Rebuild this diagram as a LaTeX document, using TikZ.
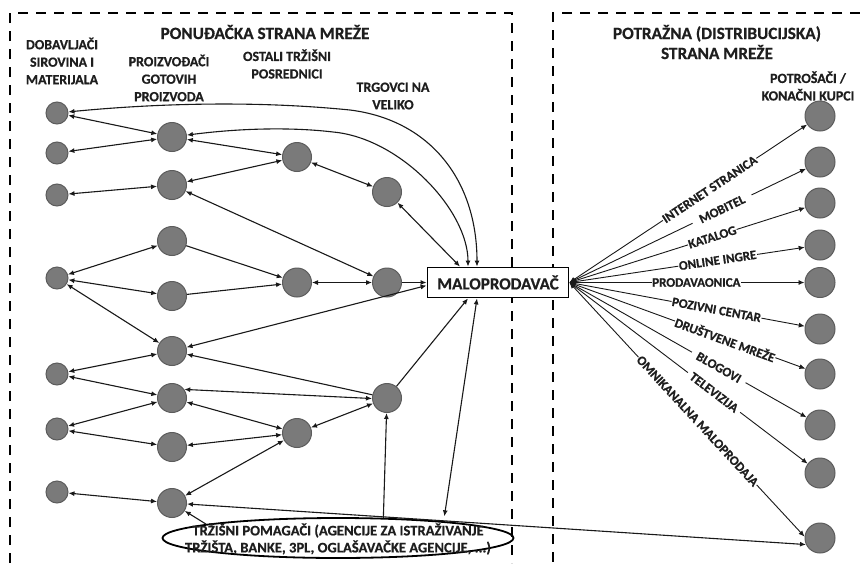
\documentclass[tikz,border=0pt]{standalone}
\usepackage{fontspec}
\setmainfont{Carlito}[BoldFeatures={FakeBold=0.6}]
\usetikzlibrary{arrows.meta,shapes.geometric}
\definecolor{ng}{RGB}{122,122,122}
\definecolor{ne}{RGB}{92,92,92}
\definecolor{tx}{RGB}{30,30,30}
\begin{document}
\begin{tikzpicture}[x=1pt,y=-1pt,
  snode/.style={circle,fill=ng,draw=ne,line width=1pt,minimum size=22pt,inner sep=0pt},
  bnode/.style={circle,fill=ng,draw=ne,line width=1pt,minimum size=29pt,inner sep=0pt},
  cnode/.style={circle,fill=ng,draw=ne,line width=1pt,minimum size=30pt,inner sep=0pt},
  tip/.tip={Latex[length=6pt,width=5pt]},
  arr2/.style={line width=1.1pt,tip-tip,draw=black!90},
  arr1/.style={line width=1.1pt,-tip,draw=black!90},
  chan/.style={line width=0.9pt,tip-tip,draw=black!90},
  chl/.style={fill=white,inner sep=0.6pt,text=tx,font=\bfseries\fontsize{13}{14}\selectfont,sloped},
  hdr/.style={text=tx,font=\bfseries\fontsize{17.2}{20}\selectfont,align=center,inner sep=0pt},
  sub/.style={text=tx,font=\bfseries\fontsize{14}{17.5}\selectfont,align=center,inner sep=0pt},
  dbox/.style={line width=2.4pt,dash pattern=on 10pt off 8pt}
]
\useasboundingbox (0,0) rectangle (860,563);
\fill[white] (0,0) rectangle (860,563);

% dashed areas
\draw[dbox] (10,563) -- (10,13) -- (512,13) -- (512,563);
\draw[dbox] (860,13) -- (553,13) -- (553,563);

% headers
\node[hdr] (hL) at (265,32) {PONUĐAČKA STRANA MREŽE};
\node[hdr] (hR) at (717,42) {POTRAŽNA (DISTRIBUCIJSKA)\\STRANA MREŽE};
\node[sub] (t1) at (62,61) {DOBAVLJAČI\\SIROVINA I\\MATERIJALA};
\node[sub] (t2) at (169,78) {PROIZVOĐAČI\\GOTOVIH\\PROIZVODA};
\node[sub] (t3) at (287,64) {OSTALI TRŽIŠNI\\POSREDNICI};
\node[sub] (t4) at (393,96) {TRGOVCI NA\\VELIKO};
\node[sub] (t5) at (808,86) {POTROŠAČI /\\KONAČNI KUPCI};

% suppliers
\node[snode] (S1) at (57,113) {};
\node[snode] (S2) at (57,153) {};
\node[snode] (S3) at (57,195) {};
\node[snode] (S4) at (57,278) {};
\node[snode] (S5) at (57,374) {};
\node[snode] (S6) at (57,429) {};
\node[snode] (S7) at (57,492) {};
% producers
\node[bnode] (P1) at (172,137) {};
\node[bnode] (P2) at (172,185) {};
\node[bnode] (P3) at (172,241) {};
\node[bnode] (P4) at (172,296) {};
\node[bnode] (P5) at (172,351) {};
\node[bnode] (P6) at (172,398) {};
\node[bnode] (P7) at (172,447) {};
\node[bnode] (P8) at (172,503) {};
% other intermediaries
\node[bnode] (O1) at (297,157) {};
\node[bnode] (O2) at (297,282.5) {};
\node[bnode] (O3) at (297,433) {};
% wholesalers
\node[bnode] (W1) at (387,192) {};
\node[bnode] (W2) at (387,282.5) {};
\node[bnode] (W3) at (387,398) {};
% consumers
\node[cnode] (C1) at (820,116) {};
\node[cnode] (C2) at (820,162) {};
\node[cnode] (C3) at (820,203) {};
\node[cnode] (C4) at (820,245) {};
\node[cnode] (C5) at (820,282.5) {};
\node[cnode] (C6) at (820,329) {};
\node[cnode] (C7) at (820,374) {};
\node[cnode] (C8) at (820,425) {};
\node[cnode] (C9) at (820,473) {};
\node[cnode] (C10) at (820,538) {};

% retailer
\node[draw=black,line width=1.8pt,fill=white,minimum width=141pt,minimum height=30pt,inner sep=0pt,
      text=tx,font=\bfseries\fontsize{17}{19}\selectfont] (R) at (498,282.5) {MALOPRODAVAČ};
\coordinate (Rt1) at ([xshift=-38pt]R.north);
\coordinate (Rt2) at ([xshift=-30pt]R.north);
\coordinate (Rt3) at ([xshift=-21pt]R.north);
\coordinate (Rb1) at ([xshift=-30pt]R.south);
\coordinate (Rb2) at ([xshift=-21pt]R.south);
\coordinate (Rl) at ([yshift=-3pt]R.west);

% market helpers
\node[ellipse,draw=black,line width=1.8pt,minimum width=351pt,minimum height=40pt,inner sep=0pt] (E) at (338,538) {};
\node[text=tx,font=\bfseries\fontsize{14.6}{17}\selectfont,align=center,inner sep=0pt] (Et) at (338,539)
  {TRŽIŠNI POMAGAČI (AGENCIJE ZA ISTRAŽIVANJE\\TRŽIŠTA, BANKE, 3PL, OGLAŠAVAČKE AGENCIJE, ...)};

% supplier side connectors
\draw[arr2] (S1) -- (P1);
\draw[arr2] (S2) -- (P1);
\draw[arr2] (S3) -- (P2);
\draw[arr2] (S4) -- (P3);
\draw[arr2] (S4) -- (P4);
\draw[arr2] (S4) -- (P5);
\draw[arr2] (S5) -- (P5);
\draw[arr2] (S5) -- (P6);
\draw[arr2] (S6) -- (P6);
\draw[arr2] (S6) -- (P7);
\draw[arr2] (S7) -- (P8);
\draw[arr2] (P1) -- (O1);
\draw[arr2] (P2) -- (O1);
\draw[arr2] (P2) -- (W2);
\draw[arr1] (P3) -- (O2);
\draw[arr1] (P4) -- (O2);
\draw[arr2] (P5) -- (Rl);
\draw[arr2] (P6.35) -- (W3.182);
\draw[arr1] (W3) -- (P5);
\draw[arr2] (P6) -- (O3);
\draw[arr2] (P7) -- (O3);
\draw[arr2] (P8) -- (O3);
\draw[arr2] (O1) -- (W1);
\draw[arr2] (O2) -- (W2);
\draw[arr2] (O3) -- (W3);
\draw[arr2] (W1) -- (Rt1);
\draw[arr1] (W2) -- (R.west);
\draw[arr1] (W3) -- (Rb1);
\draw[arr2] (S1) .. controls (150,104) and (250,100) .. (350,110) .. controls (430,120) and (477,180) .. (Rt3);
\draw[arr2] (P1) .. controls (250,127) and (300,128) .. (333,132) .. controls (400,138) and (468,210) .. (Rt2);
\draw[arr1] (E.24) -- (W3);
\draw[arr2,shorten <=5pt] (E.9) -- (Rb2);
\draw[arr1] (E.174) -- (P8);
\draw[arr2] (P8) -- (C10.205);

% distribution channels
\draw[chan] (R.east) -- node[chl,pos=0.59] {INTERNET STRANICA} (C1);
\draw[chan] (R.east) -- node[chl,pos=0.645,inner xsep=8pt] {MOBITEL} (C2);
\draw[chan] (R.east) -- node[chl,pos=0.606] {KATALOG} (C3);
\draw[chan] (R.east) -- node[chl,pos=0.63] {ONLINE INGRE} (C4);
\draw[chan] (R.east) -- node[chl,pos=0.54] {PRODAVAONICA} (C5);
\draw[chan] (R.east) -- node[chl,pos=0.625] {POZIVNI CENTAR} (C6);
\draw[chan] (R.east) -- node[chl,pos=0.66] {DRUŠTVENE MREŽE} (C7);
\draw[chan] (R.east) -- node[chl,pos=0.63,inner xsep=6pt] {BLOGOVI} (C8);
\draw[chan] (R.east) -- node[chl,pos=0.607,inner xsep=4pt] {TELEVIZIJA} (C9);
\draw[chan] (R.east) -- node[chl,pos=0.545] {OMNIKANALNA MALOPRODAJA} (C10.175);
\end{tikzpicture}
\end{document}
